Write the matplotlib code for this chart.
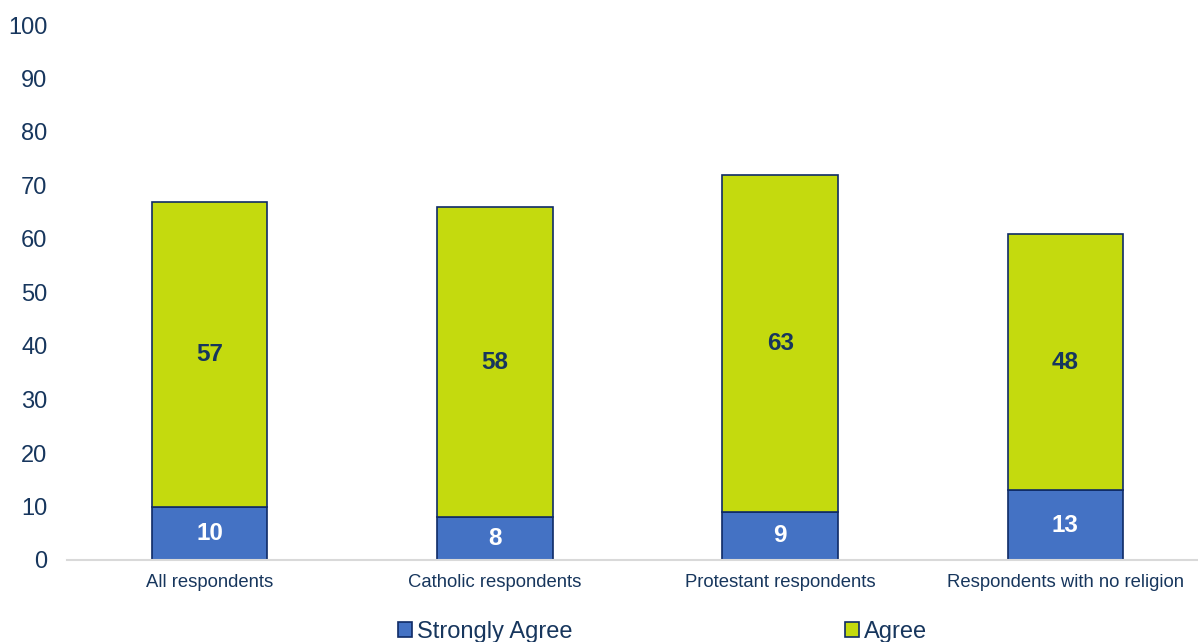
import matplotlib
matplotlib.use('Agg')
import matplotlib.pyplot as plt
import numpy as np

categories = ['All respondents', 'Catholic respondents',
              'Protestant respondents', 'Respondents with no religion']
strongly_agree = [10, 8, 9, 13]
agree = [57, 58, 63, 48]

NAVY = '#17365D'
BLUE = '#4472C4'
GREEN = '#C4DA0E'
EDGE = '#0F2B66'

plt.rcParams['font.family'] = ['Liberation Sans', 'DejaVu Sans']

fig = plt.figure(figsize=(11.98, 6.42), dpi=100)
ax = fig.add_axes([67/1198, 82/642, 1141/1198, 535/642])

x = np.arange(len(categories))
w = 0.405
b1 = ax.bar(x, strongly_agree, w, color=BLUE, edgecolor=EDGE, linewidth=1.2,
            label='Strongly Agree')
b2 = ax.bar(x, agree, w, bottom=strongly_agree, color=GREEN, edgecolor=EDGE,
            linewidth=1.2, label='Agree')

# value labels centred in each segment
for i in range(len(categories)):
    ax.text(x[i], strongly_agree[i] / 2, str(strongly_agree[i]), ha='center',
            va='center', color='white', fontsize=17.5, fontweight='bold')
    ax.text(x[i], strongly_agree[i] + agree[i] / 2, str(agree[i]), ha='center',
            va='center', color=NAVY, fontsize=17.5, fontweight='bold')

ax.set_xlim(-0.5, len(categories) - 0.5)
ax.set_ylim(0, 100)
ax.set_yticks(range(0, 101, 10))
ax.set_xticks(x)
ax.set_xticklabels(categories)
ax.tick_params(axis='y', length=0, labelsize=17, labelcolor=NAVY, pad=14)
ax.tick_params(axis='x', length=0, labelsize=13.3, labelcolor=NAVY, pad=10)
for s in ['top', 'right', 'left']:
    ax.spines[s].set_visible(False)
ax.spines['bottom'].set_color('#D9D9D9')
ax.spines['bottom'].set_linewidth(1.5)

leg = fig.legend(handles=[b1, b2], loc='lower center', bbox_to_anchor=(0.553, -0.035),
                 ncol=2, frameon=False, fontsize=17, handlelength=0.6,
                 handleheight=0.6, handletextpad=0.2, columnspacing=11.55)
for t in leg.get_texts():
    t.set_color(NAVY)

fig.savefig('out.png', dpi=100)
